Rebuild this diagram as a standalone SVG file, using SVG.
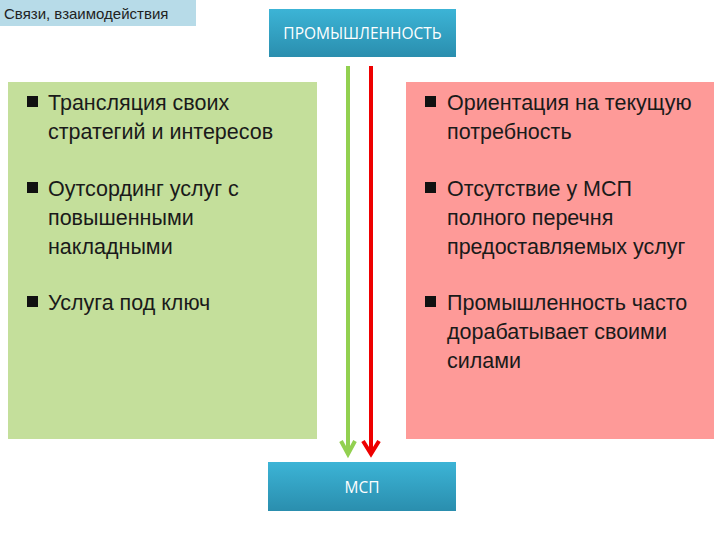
<svg xmlns="http://www.w3.org/2000/svg" width="720" height="540" viewBox="0 0 720 540">
<defs>
<linearGradient id="tealGrad" x1="0" y1="0" x2="0" y2="1">
<stop offset="0" stop-color="#3cb4d6"/>
<stop offset="1" stop-color="#2a8eae"/>
</linearGradient>
</defs>
<style>
.t{font-family:"Liberation Sans","DejaVu Sans",sans-serif;font-size:21.5px;fill:#1a1a1a}
.hdr{font-family:"Open Sans","Liberation Sans",sans-serif;font-size:15.5px;fill:#ffffff;text-anchor:middle}
.bul{fill:#111111}
.ga{stroke:#92d050;stroke-width:4;fill:none}
.ra{stroke:#ee0000;stroke-width:4;fill:none}
</style>
<rect width="720" height="540" fill="#ffffff"/>
<g id="label">
<rect x="0" y="0" width="196" height="26" fill="#b7dbe8"/>
<text x="4" y="19" font-family="'Liberation Sans',sans-serif" font-size="15" fill="#222">Связи, взаимодействия</text>
</g>
<g id="industry">
<rect x="269" y="9" width="187" height="48" fill="url(#tealGrad)"/>
<text class="hdr" x="362.5" y="39">ПРОМЫШЛЕННОСТЬ</text>
</g>
<g id="msp">
<rect x="268" y="462" width="188" height="49" fill="url(#tealGrad)"/>
<text class="hdr" x="362" y="493">МСП</text>
</g>
<g id="green-box">
<rect x="8" y="82" width="309" height="357" fill="#c4df9b"/>
<rect class="bul" x="27" y="96" width="11" height="11"/>
<text class="t" x="48" y="110">Трансляция своих</text>
<text class="t" x="48" y="139">стратегий и интересов</text>
<rect class="bul" x="27" y="182" width="11" height="11"/>
<text class="t" x="48" y="196">Оутсординг услуг с</text>
<text class="t" x="48" y="225">повышенными</text>
<text class="t" x="48" y="254">накладными</text>
<rect class="bul" x="27" y="296" width="11" height="11"/>
<text class="t" x="48" y="310">Услуга под ключ</text>
</g>
<g id="red-box">
<rect x="406" y="82" width="308" height="357" fill="#fe9a98"/>
<rect class="bul" x="425" y="96" width="11" height="11"/>
<text class="t" x="447" y="110">Ориентация на текущую</text>
<text class="t" x="447" y="139">потребность</text>
<rect class="bul" x="425" y="182" width="11" height="11"/>
<text class="t" x="447" y="196">Отсутствие у МСП</text>
<text class="t" x="447" y="225">полного перечня</text>
<text class="t" x="447" y="254">предоставляемых услуг</text>
<rect class="bul" x="425" y="296" width="11" height="11"/>
<text class="t" x="447" y="310">Промышленность часто</text>
<text class="t" x="447" y="339">дорабатывает своими</text>
<text class="t" x="447" y="368">силами</text>
</g>
<g id="connectors">
<line class="ga" x1="348" y1="66" x2="348" y2="453"/>
<polyline class="ga" points="341,441 348,454 355,441"/>
<line class="ra" x1="371" y1="66" x2="371" y2="453"/>
<polyline class="ra" points="363,441 371,454 379,441" stroke="#cc0000"/>
</g>
</svg>
